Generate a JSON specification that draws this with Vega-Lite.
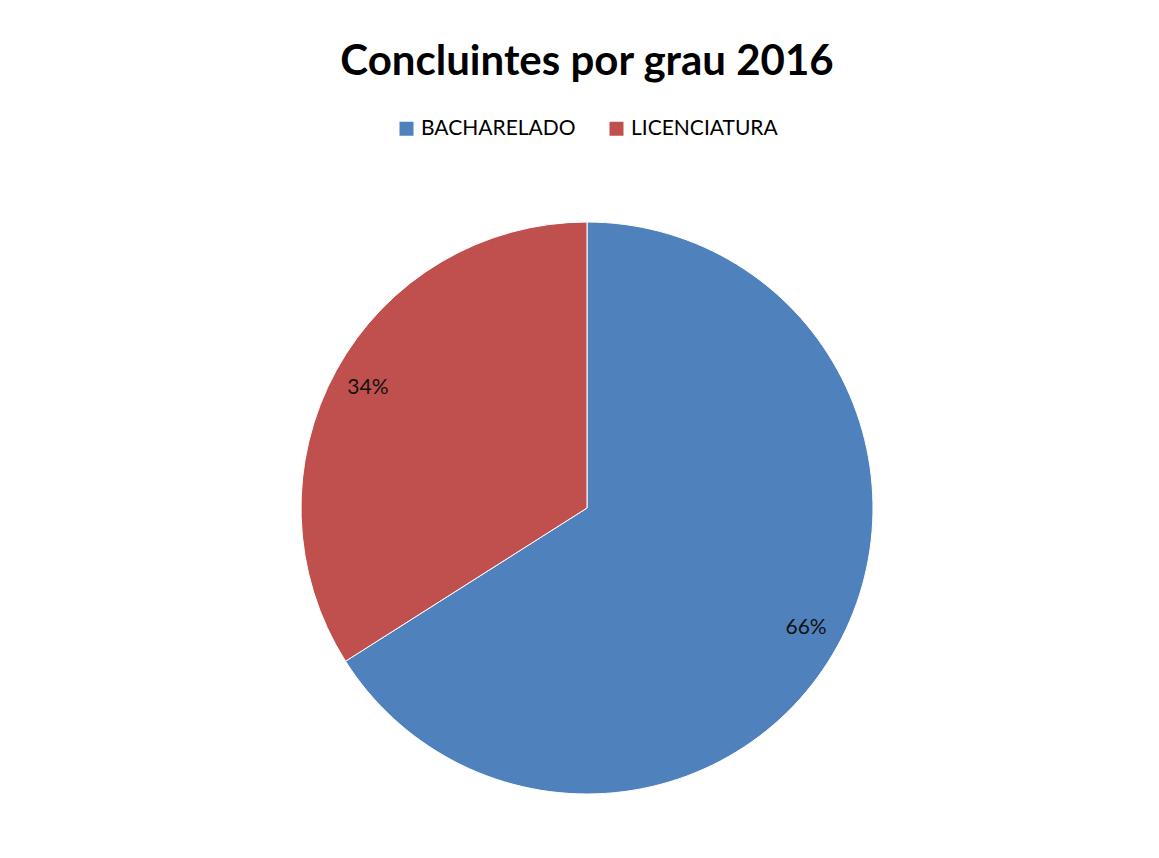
{
  "$schema": "https://vega.github.io/schema/vega-lite/v6.json",
  "autosize": "none",
  "width": 572,
  "height": 572,
  "padding": {"left": 301, "top": 222, "right": 286, "bottom": 64},
  "background": "white",
  "title": {
    "text": "Concluintes por grau 2016",
    "font": "Lato",
    "fontSize": 42,
    "fontWeight": "bold",
    "color": "#000000",
    "anchor": "middle",
    "offset": 34
  },
  "config": {
    "view": {"stroke": null},
    "legend": {"layout": {"top": {"anchor": "middle"}}}
  },
  "data": {
    "values": [
      {"grau": "BACHARELADO", "pct": 66, "label": "66%", "ord": 1},
      {"grau": "LICENCIATURA", "pct": 34, "label": "34%", "ord": 2}
    ]
  },
  "encoding": {
    "theta": {"field": "pct", "type": "quantitative", "stack": true},
    "order": {"field": "ord", "type": "quantitative", "sort": "ascending"}
  },
  "layer": [
    {
      "mark": {"type": "arc", "outerRadius": 286, "stroke": "white", "strokeWidth": 1},
      "encoding": {
        "color": {
          "field": "grau",
          "type": "nominal",
          "scale": {"domain": ["BACHARELADO", "LICENCIATURA"], "range": ["#4F81BD", "#C0504D"]},
          "legend": {
            "orient": "top",
            "direction": "horizontal",
            "title": null,
            "symbolType": "square",
            "symbolSize": 196,
            "symbolStrokeWidth": 0,
            "labelFont": "Lato",
            "labelFontSize": 21,
            "labelColor": "#000000",
            "labelLimit": 400,
            "columnPadding": 30,
            "labelOffset": 4,
            "offset": 83
          }
        }
      }
    },
    {
      "mark": {"type": "text", "radius": 250, "font": "Lato", "fontSize": 21, "color": "#111111"},
      "encoding": {
        "detail": {"field": "grau", "type": "nominal"},
        "text": {"field": "label", "type": "nominal"}
      }
    }
  ]
}
